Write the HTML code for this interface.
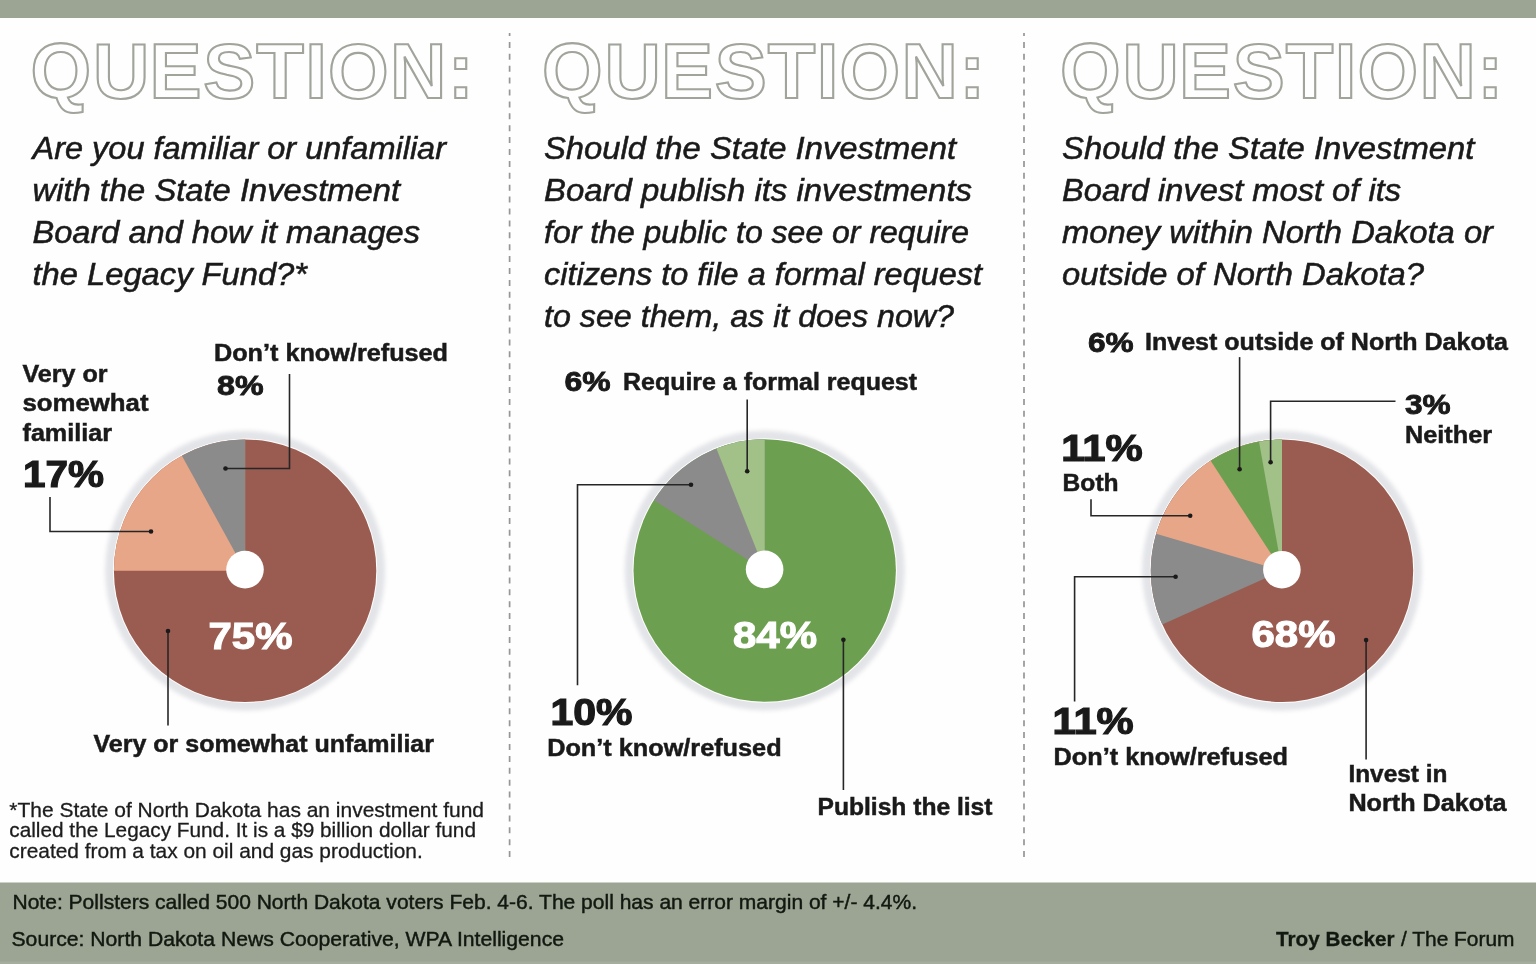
<!DOCTYPE html>
<html lang="en"><head><meta charset="utf-8"><title>Poll: State Investment Board</title>
<style>
html,body{margin:0;padding:0;background:#fefefe;}
body{width:1536px;height:964px;overflow:hidden;font-family:"Liberation Sans",sans-serif;}
svg{display:block}
text{font-family:"Liberation Sans",sans-serif;fill:#1a1a1a;}
.ttl{font-size:78px;font-weight:700;fill:none;stroke:#a0a49b;stroke-width:2.1px;stroke-linejoin:miter;stroke-miterlimit:3;}
.q{font-size:31.8px;font-style:italic;fill:#1a1a1a;stroke:#1a1a1a;stroke-width:0.55px;}
.lb{font-size:24.6px;font-weight:700;stroke:#1a1a1a;stroke-width:0.5px;}
.pc{font-size:28px;font-weight:700;stroke:#1a1a1a;stroke-width:0.9px;}
.pcl{font-size:37px;font-weight:700;stroke:#1a1a1a;stroke-width:1.2px;}
.pw{font-size:36px;font-weight:700;fill:#fff;stroke:#fff;stroke-width:1.1px;}
.fn{font-size:21px;fill:#1c1c1c;stroke:#1c1c1c;stroke-width:0.3px;}
.nt{font-size:21px;fill:#121810;stroke:#121810;stroke-width:0.45px;}
.ntb{font-size:21px;font-weight:700;fill:#121810;stroke:#121810;stroke-width:0.3px;}
.ld{fill:none;stroke:#262626;stroke-width:1.6px;}
.dv{stroke:#969696;stroke-width:1.7px;stroke-dasharray:6 5.9;stroke-dashoffset:3;}
</style></head><body>
<svg width="1536" height="964" viewBox="0 0 1536 964">
<defs><filter id="blur" x="-20%" y="-20%" width="140%" height="140%"><feGaussianBlur stdDeviation="2.1"/></filter><filter id="blur2" x="-20%" y="-20%" width="140%" height="140%"><feGaussianBlur stdDeviation="0.5"/></filter></defs>
<rect x="0" y="0" width="1536" height="964" fill="#fefefe"/>
<rect x="0" y="0" width="1536" height="18" fill="#9ca594"/>
<rect x="0" y="882.5" width="1536" height="82" fill="#9ca594"/>
<rect x="0" y="961.6" width="1536" height="3" fill="#a5ada0"/>
<line x1="509.6" y1="33" x2="509.6" y2="862" class="dv"/>
<line x1="1024" y1="33" x2="1024" y2="862" class="dv"/>

<text x="30.60 92.97 149.45 203.29 256.31 305.21 328.00 390.05 447.66" y="97.8" class="ttl">QUESTION:</text>
<text x="542.10 604.47 660.95 714.79 767.81 816.71 839.50 901.55 959.16" y="97.8" class="ttl">QUESTION:</text>
<text x="1060.10 1122.47 1178.95 1232.79 1285.81 1334.71 1357.50 1419.55 1477.16" y="97.8" class="ttl">QUESTION:</text>
<text x="32.5" y="159.4" class="q" textLength="413.5" lengthAdjust="spacingAndGlyphs">Are you familiar or unfamiliar</text>
<text x="32.5" y="201.4" class="q" textLength="367.5" lengthAdjust="spacingAndGlyphs">with the State Investment</text>
<text x="32.5" y="243.4" class="q" textLength="387.5" lengthAdjust="spacingAndGlyphs">Board and how it manages</text>
<text x="32.5" y="285.4" class="q" textLength="274.5" lengthAdjust="spacingAndGlyphs">the Legacy Fund?*</text>
<text x="544" y="159.4" class="q" textLength="412" lengthAdjust="spacingAndGlyphs">Should the State Investment</text>
<text x="544" y="201.4" class="q" textLength="428" lengthAdjust="spacingAndGlyphs">Board publish its investments</text>
<text x="544" y="243.4" class="q" textLength="425" lengthAdjust="spacingAndGlyphs">for the public to see or require</text>
<text x="544" y="285.4" class="q" textLength="438" lengthAdjust="spacingAndGlyphs">citizens to file a formal request</text>
<text x="544" y="327.4" class="q" textLength="410" lengthAdjust="spacingAndGlyphs">to see them, as it does now?</text>
<text x="1062" y="159.4" class="q" textLength="412.5" lengthAdjust="spacingAndGlyphs">Should the State Investment</text>
<text x="1062" y="201.4" class="q" textLength="339" lengthAdjust="spacingAndGlyphs">Board invest most of its</text>
<text x="1062" y="243.4" class="q" textLength="431" lengthAdjust="spacingAndGlyphs">money within North Dakota or</text>
<text x="1062" y="285.4" class="q" textLength="362" lengthAdjust="spacingAndGlyphs">outside of North Dakota?</text>
<circle cx="245.1" cy="570.7" r="140.0" fill="#e3e4e8" filter="url(#blur)"/>
<circle cx="245.1" cy="570.7" r="132.2" fill="#fff" filter="url(#blur2)"/>
<circle cx="245.1" cy="570.7" r="131.2" fill="#9a5b50"/>
<path d="M245.1 570.7L113.90 570.70A131.2 131.2 0 0 1 245.1 439.50000000000006Z" fill="#e8a688"/>
<path d="M245.1 570.7L181.89 455.73A131.2 131.2 0 0 1 245.1 439.50000000000006Z" fill="#8b8b8b"/>
<circle cx="245.0" cy="569.6" r="18.8" fill="#fff"/>
<circle cx="764.7" cy="570.5" r="140.0" fill="#e3e4e8" filter="url(#blur)"/>
<circle cx="764.7" cy="570.5" r="132.2" fill="#fff" filter="url(#blur2)"/>
<circle cx="764.7" cy="570.5" r="131.2" fill="#6d9f50"/>
<path d="M764.7 570.5L653.92 500.20A131.2 131.2 0 0 1 764.7 439.3Z" fill="#8b8b8b"/>
<path d="M764.7 570.5L716.40 448.51A131.2 131.2 0 0 1 764.7 439.3Z" fill="#a2c188"/>
<circle cx="764.6" cy="569.4" r="18.8" fill="#fff"/>
<circle cx="1282" cy="570.8" r="140.0" fill="#e3e4e8" filter="url(#blur)"/>
<circle cx="1282" cy="570.8" r="132.2" fill="#fff" filter="url(#blur2)"/>
<circle cx="1282" cy="570.8" r="131.2" fill="#9a5b50"/>
<path d="M1282 570.8L1162.25 624.41A131.2 131.2 0 0 1 1282 439.59999999999997Z" fill="#8b8b8b"/>
<path d="M1282 570.8L1156.13 533.80A131.2 131.2 0 0 1 1282 439.59999999999997Z" fill="#e8a688"/>
<path d="M1282 570.8L1210.66 460.69A131.2 131.2 0 0 1 1282 439.59999999999997Z" fill="#6d9f50"/>
<path d="M1282 570.8L1259.04 441.63A131.2 131.2 0 0 1 1282 439.59999999999997Z" fill="#a2c188"/>
<circle cx="1281.9" cy="569.6999999999999" r="18.8" fill="#fff"/>
<text x="214" y="360.5" class="lb" textLength="234" lengthAdjust="spacingAndGlyphs">Don’t know/refused</text>
<text x="217" y="395" class="pc" textLength="46.5" lengthAdjust="spacingAndGlyphs">8%</text>
<text x="22.5" y="381.5" class="lb" textLength="85" lengthAdjust="spacingAndGlyphs">Very or</text>
<text x="22.5" y="411.2" class="lb" textLength="126" lengthAdjust="spacingAndGlyphs">somewhat</text>
<text x="22.5" y="441" class="lb" textLength="89.5" lengthAdjust="spacingAndGlyphs">familiar</text>
<text x="23" y="486.5" class="pcl" textLength="81" lengthAdjust="spacingAndGlyphs">17%</text>
<text x="208.5" y="648.6" class="pw" textLength="84" lengthAdjust="spacingAndGlyphs">75%</text>
<text x="93.5" y="751.5" class="lb" textLength="340.5" lengthAdjust="spacingAndGlyphs">Very or somewhat unfamiliar</text>
<path d="M289.5 374L289.5 468.5L225.5 468.5" class="ld"/><circle cx="225.5" cy="468.5" r="2.3" fill="#1a1a1a"/>
<path d="M50 497L50 531.5L151 531.5" class="ld"/><circle cx="151" cy="531.5" r="2.3" fill="#1a1a1a"/>
<path d="M168 725.5L168 631" class="ld"/><circle cx="168" cy="631" r="2.3" fill="#1a1a1a"/>
<text x="564.5" y="390.5" class="pc" textLength="46" lengthAdjust="spacingAndGlyphs">6%</text>
<text x="623" y="389.8" class="lb" textLength="294" lengthAdjust="spacingAndGlyphs">Require a formal request</text>
<path d="M747.2 399.5L747.2 471.2" class="ld"/><circle cx="747.2" cy="471.2" r="2.3" fill="#1a1a1a"/>
<path d="M577.5 685.3L577.5 484.7L691 484.7" class="ld"/><circle cx="691" cy="484.7" r="2.3" fill="#1a1a1a"/>
<text x="550.5" y="725" class="pcl" textLength="82" lengthAdjust="spacingAndGlyphs">10%</text>
<text x="547.2" y="755.6" class="lb" textLength="234.4" lengthAdjust="spacingAndGlyphs">Don’t know/refused</text>
<text x="733" y="647.8" class="pw" textLength="84" lengthAdjust="spacingAndGlyphs">84%</text>
<path d="M843.4 790L843.4 639.8" class="ld"/><circle cx="843.4" cy="639.8" r="2.3" fill="#1a1a1a"/>
<text x="817.5" y="815" class="lb" textLength="175" lengthAdjust="spacingAndGlyphs">Publish the list</text>
<text x="1088" y="351.5" class="pc" textLength="45.6" lengthAdjust="spacingAndGlyphs">6%</text>
<text x="1145" y="349.9" class="lb" textLength="363" lengthAdjust="spacingAndGlyphs">Invest outside of North Dakota</text>
<path d="M1239.6 357.1L1239.6 469.2" class="ld"/><circle cx="1239.6" cy="469.2" r="2.3" fill="#1a1a1a"/>
<path d="M1395.5 401.2L1270.6 401.2L1270.6 462.3" class="ld"/><circle cx="1270.6" cy="462.3" r="2.3" fill="#1a1a1a"/>
<text x="1405" y="413.6" class="pc" textLength="45.6" lengthAdjust="spacingAndGlyphs">3%</text>
<text x="1405" y="443.4" class="lb" textLength="87" lengthAdjust="spacingAndGlyphs">Neither</text>
<text x="1061.3" y="461.1" class="pcl" textLength="81.4" lengthAdjust="spacingAndGlyphs">11%</text>
<text x="1062.6" y="491.1" class="lb" textLength="56" lengthAdjust="spacingAndGlyphs">Both</text>
<path d="M1091 499.2L1091 515.7L1190.2 515.7" class="ld"/><circle cx="1190.2" cy="515.7" r="2.3" fill="#1a1a1a"/>
<path d="M1074.6 701.4L1074.6 576.8L1175.6 576.8" class="ld"/><circle cx="1175.6" cy="576.8" r="2.3" fill="#1a1a1a"/>
<text x="1052.5" y="734.4" class="pcl" textLength="81.2" lengthAdjust="spacingAndGlyphs">11%</text>
<text x="1053.6" y="765" class="lb" textLength="234.4" lengthAdjust="spacingAndGlyphs">Don’t know/refused</text>
<text x="1251.5" y="647.2" class="pw" textLength="84" lengthAdjust="spacingAndGlyphs">68%</text>
<path d="M1366.1 759.6L1366.1 640.1" class="ld"/><circle cx="1366.1" cy="640.1" r="2.3" fill="#1a1a1a"/>
<text x="1348.4" y="781.8" class="lb" textLength="99" lengthAdjust="spacingAndGlyphs">Invest in</text>
<text x="1348.4" y="811.2" class="lb" textLength="158.2" lengthAdjust="spacingAndGlyphs">North Dakota</text>
<text x="9.3" y="816.7" class="fn" textLength="474.7" lengthAdjust="spacingAndGlyphs">*The State of North Dakota has an investment fund</text>
<text x="9.3" y="837.4" class="fn" textLength="466.7" lengthAdjust="spacingAndGlyphs">called the Legacy Fund. It is a $9 billion dollar fund</text>
<text x="9.3" y="858.2" class="fn" textLength="413.4" lengthAdjust="spacingAndGlyphs">created from a tax on oil and gas production.</text>
<text x="12.5" y="909.3" class="nt" textLength="904.5" lengthAdjust="spacingAndGlyphs">Note: Pollsters called 500 North Dakota voters Feb. 4-6. The poll has an error margin of +/- 4.4%.</text>
<text x="11.5" y="945.8" class="nt" textLength="552.5" lengthAdjust="spacingAndGlyphs">Source: North Dakota News Cooperative, WPA Intelligence</text>
<text x="1276" y="945.6" class="ntb" textLength="118.5" lengthAdjust="spacingAndGlyphs">Troy Becker</text>
<text x="1401" y="945.6" class="nt" textLength="113.5" lengthAdjust="spacingAndGlyphs">/ The Forum</text>
</svg></body></html>
